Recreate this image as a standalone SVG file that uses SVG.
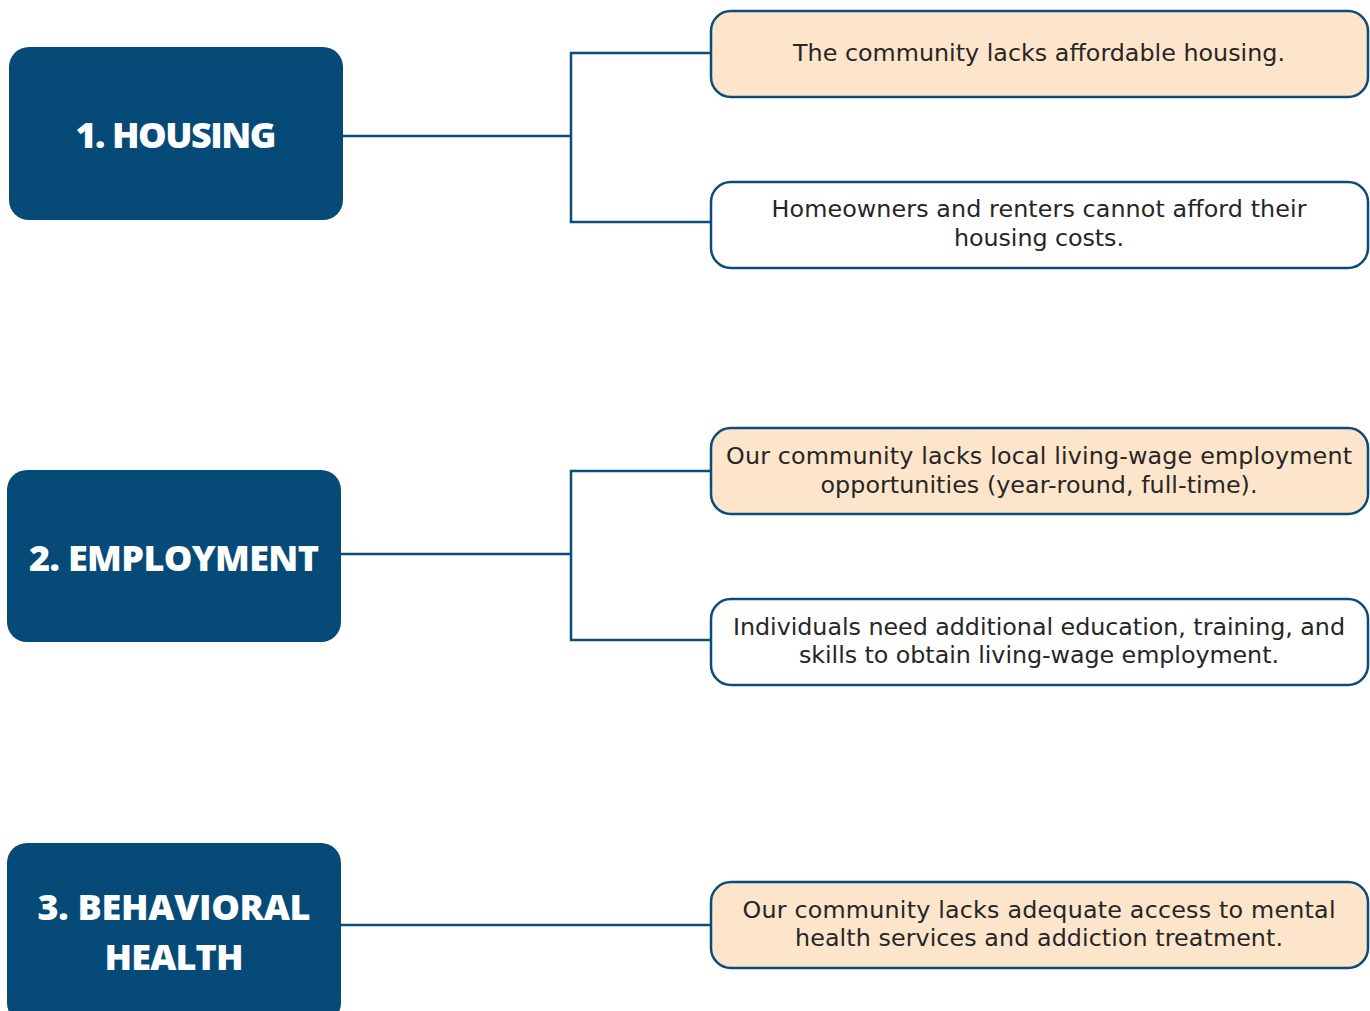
<svg xmlns="http://www.w3.org/2000/svg" width="1370" height="1011" viewBox="0 0 1370 1011">
  <style>
    .head rect { fill: #064b78; }
    .head text { fill: #ffffff; font-family: "Open Sans", "Liberation Sans", sans-serif; font-weight: 800; font-size: 36px; text-anchor: middle; }
    .item rect { stroke: #0b4c78; stroke-width: 2.5; }
    .item.warm rect { fill: #fde5cb; }
    .item.plain rect { fill: #ffffff; }
    .item text { fill: #262626; font-family: "DejaVu Sans", "Liberation Sans", sans-serif; font-size: 23.8px; text-anchor: middle; }
    .links path { fill: none; stroke: #0b4c78; stroke-width: 2.5; }
  </style>
  <rect width="1370" height="1011" fill="#ffffff"/>

  <g class="links">
    <path d="M343 136 H571 M711 53 H571 V222 H711"/>
    <path d="M341 554 H571 M711 471 H571 V640 H711"/>
    <path d="M341 925 H711"/>
  </g>

  <g id="housing" class="head">
    <rect x="9" y="47" width="334" height="173" rx="20"/>
    <text x="176" y="148" textLength="201">1. HOUSING</text>
  </g>
  <g id="employment" class="head">
    <rect x="7" y="470" width="334" height="172" rx="20"/>
    <text x="174" y="571" textLength="290">2. EMPLOYMENT</text>
  </g>
  <g id="behavioral-health" class="head">
    <rect x="7" y="843" width="334" height="180" rx="20"/>
    <text x="174" y="920" textLength="273">3. BEHAVIORAL</text>
    <text x="174" y="970" textLength="139">HEALTH</text>
  </g>

  <g id="housing-affordable" class="item warm">
    <rect x="711" y="11" width="657" height="86" rx="20"/>
    <text x="1039" y="61" textLength="492">The community lacks affordable housing.</text>
  </g>
  <g id="housing-costs" class="item plain">
    <rect x="711" y="182" width="657" height="86" rx="20"/>
    <text x="1039" y="217" textLength="535">Homeowners and renters cannot afford their</text>
    <text x="1039" y="246" textLength="170">housing costs.</text>
  </g>
  <g id="employment-jobs" class="item warm">
    <rect x="711" y="428" width="657" height="86" rx="20"/>
    <text x="1039" y="464" textLength="626">Our community lacks local living-wage employment</text>
    <text x="1039" y="493" textLength="437">opportunities (year-round, full-time).</text>
  </g>
  <g id="employment-skills" class="item plain">
    <rect x="711" y="599" width="657" height="86" rx="20"/>
    <text x="1039" y="635" textLength="612">Individuals need additional education, training, and</text>
    <text x="1039" y="663" textLength="480">skills to obtain living-wage employment.</text>
  </g>
  <g id="behavioral-access" class="item warm">
    <rect x="711" y="882" width="657" height="86" rx="20"/>
    <text x="1039" y="918" textLength="593">Our community lacks adequate access to mental</text>
    <text x="1039" y="946" textLength="488">health services and addiction treatment.</text>
  </g>
</svg>
